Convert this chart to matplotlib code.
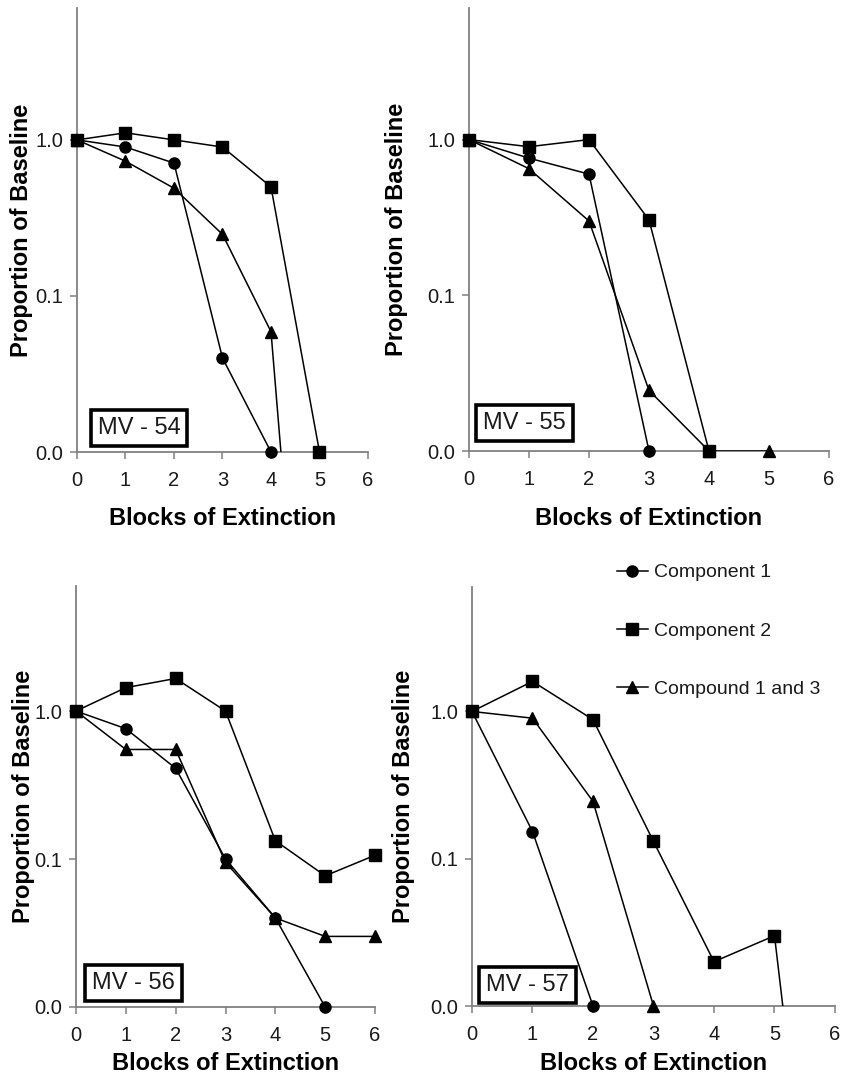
import numpy as np
import matplotlib
matplotlib.use("Agg")
import matplotlib.pyplot as plt
from matplotlib.lines import Line2D

plt.rcParams['font.family'] = ['Liberation Sans', 'DejaVu Sans']

blocks = [0, 1, 2, 3, 4, 5, 6]
subjects = ["MV - 54", "MV - 55", "MV - 56", "MV - 57"]
series_names = ["Component 1", "Component 2", "Compound 1 and 3"]
nan = np.nan

# Proportion of baseline (0 = no responding; nan = not plotted)
mv54_comp1 = [1.0, 0.90, 0.71, 0.040, 0.01, nan, nan]
mv54_comp2 = [1.0, 1.11, 1.0, 0.90, 0.50, 0.01, nan]
mv54_cmpd = [1.0, 0.73, 0.49, 0.248, 0.059, 0.0, nan]

mv55_comp1 = [1.0, 0.76, 0.60, 0.01, nan, nan, nan]
mv55_comp2 = [1.0, 0.90, 1.0, 0.305, 0.01, nan, nan]
mv55_cmpd = [1.0, 0.65, 0.30, 0.0245, 0.01, 0.01, nan]

mv56_comp1 = [1.0, 0.76, 0.41, 0.10, 0.040, 0.01, nan]
mv56_comp2 = [1.0, 1.44, 1.66, 1.0, 0.133, 0.077, 0.106]
mv56_cmpd = [1.0, 0.55, 0.55, 0.095, 0.040, 0.030, 0.030]

mv57_comp1 = [1.0, 0.153, 0.01, nan, nan, nan, nan]
mv57_comp2 = [1.0, 1.60, 0.88, 0.131, 0.020, 0.030, 0.0]
mv57_cmpd = [1.0, 0.90, 0.245, 0.01, nan, nan, nan]

ytick_vals = [0.01, 0.1, 1.0]
ytick_labels = ["0.0", "0.1", "1.0"]

panels = [
    (mv54_comp1, mv54_comp2, mv54_cmpd),
    (mv55_comp1, mv55_comp2, mv55_cmpd),
    (mv56_comp1, mv56_comp2, mv56_cmpd),
    (mv57_comp1, mv57_comp2, mv57_cmpd),
]

W, H = 845, 1082
fig = plt.figure(figsize=(W / 100, H / 100), dpi=100)

# axes rectangles in pixels: left, right, top, bottom
rects_px = [
    (77, 368, 8, 452),
    (469, 829, 8, 451),
    (76, 375, 586, 1007),
    (472, 835, 587, 1006),
]
box_pos = [(0.213, 0.054), (0.153, 0.063), (0.193, 0.057), (0.152, 0.051)]
ylab_px = [22, 397, 24, 404]
xlab_px = [518, 518, 1063, 1063]

YMIN, YMAX = 0.01, 7.0
ZERO_FLOOR = 1e-5  # how a zero value is drawn on the log axis
markers = ['o', 's', '^']
msizes = [8.0, 8.6, 8.6]
zorders = [4, 5, 3]
spine_col = '#808080'
txt_col = '#1a1a1a'

for i, (ser, (l, r, t, b)) in enumerate(zip(panels, rects_px)):
    ax = fig.add_axes([l / W, 1 - b / H, (r - l) / W, (b - t) / H])
    ax.set_yscale('log', nonpositive='clip')
    for s, mk, ms, zo in zip(ser, markers, msizes, zorders):
        y = np.array(s, dtype=float)
        yl = np.where(y == 0, ZERO_FLOOR, y)
        ax.plot(blocks, yl, color='black', lw=1.1, zorder=zo, clip_on=True)
        ym = np.where(y >= YMIN * 0.999, y, np.nan)
        ax.plot(blocks, ym, ls='none', marker=mk, ms=ms,
                mfc='black', mec='black', zorder=zo, clip_on=False)
    ax.set_xlim(0, 6)
    ax.set_ylim(YMIN, YMAX)
    ax.set_xticks(blocks)
    ax.set_yticks(ytick_vals)
    ax.set_yticklabels(ytick_labels)
    ax.minorticks_off()
    for sp in ['top', 'right']:
        ax.spines[sp].set_visible(False)
    for sp in ['left', 'bottom']:
        ax.spines[sp].set_color(spine_col)
        ax.spines[sp].set_linewidth(1.3)
    ax.tick_params(axis='both', direction='out', length=5, width=1.1,
                   color=spine_col, labelcolor=txt_col, labelsize=14.5)
    ax.tick_params(axis='x', pad=9)
    ax.tick_params(axis='y', pad=5)
    ax.patch.set_visible(False)

    ax.text(box_pos[i][0], box_pos[i][1], subjects[i], transform=ax.transAxes,
            ha='center', va='center', fontsize=17, color=txt_col, zorder=6,
            bbox=dict(boxstyle='square,pad=0.3', fc='white', ec='black', lw=2.6))

    fig.text(ylab_px[i] / W, 1 - ((t + b) / 2) / H, "Proportion of Baseline",
             rotation=90, ha='center', va='center', fontsize=17,
             fontweight='bold', color='black')
    fig.text(((l + r) / 2) / W, 1 - xlab_px[i] / H, "Blocks of Extinction",
             ha='center', va='center', fontsize=17, fontweight='bold',
             color='black')

handles = [Line2D([0], [0], color='black', lw=1.1, marker=mk, ms=ms,
                  mfc='black', mec='black') for mk, ms in zip(markers, msizes)]
fig.legend(handles, series_names, loc='upper left',
           bbox_to_anchor=(607 / W, 1 - 554 / H), frameon=False,
           borderpad=0, handlelength=1.6, handletextpad=0.3,
           labelspacing=2.1, fontsize=14, labelcolor=txt_col)

fig.savefig("out.png", dpi=100)
